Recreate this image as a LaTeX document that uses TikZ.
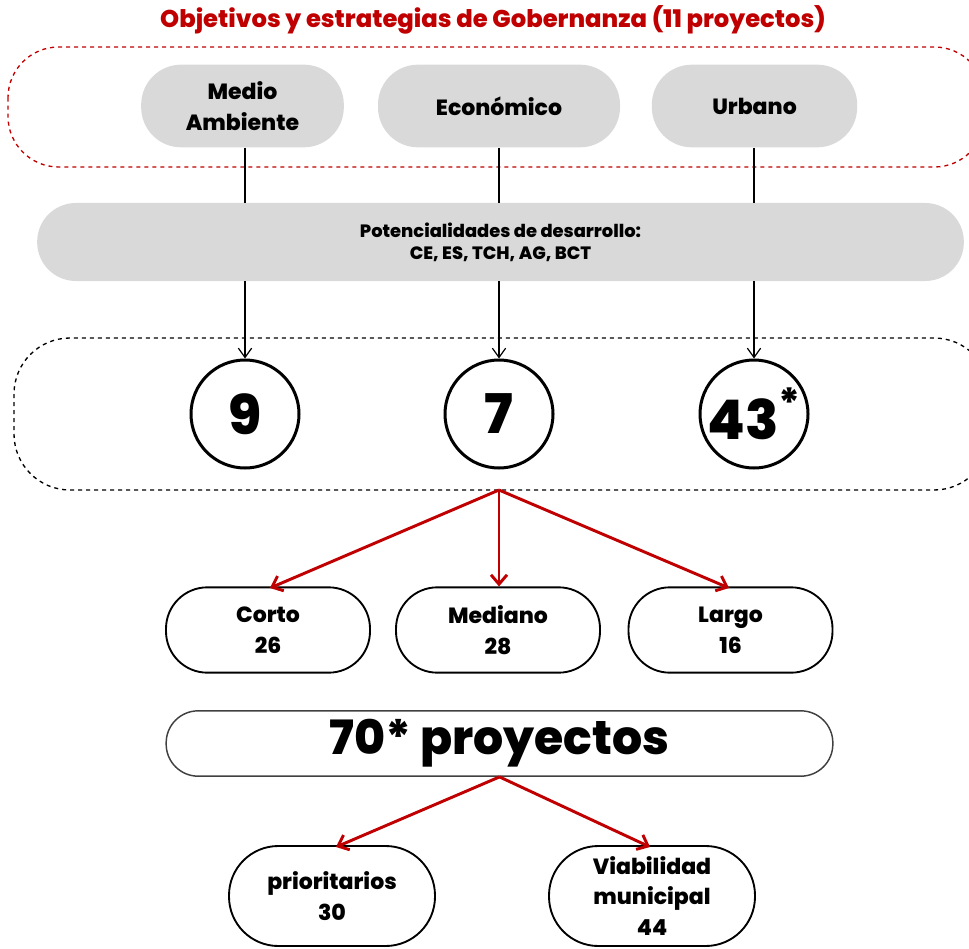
\documentclass[tikz,border=0pt]{standalone}
\usepackage{fontspec}
\setmainfont{Poppins}[BoldFont={Poppins ExtraBold}]
\usetikzlibrary{arrows.meta}
\definecolor{myred}{HTML}{C00000}
\definecolor{pillgray}{HTML}{D9D9D9}
\begin{document}
\begin{tikzpicture}[x=0.75pt,y=-0.75pt,
  graypill/.style={fill=pillgray,draw=none,rounded corners=30pt,minimum height=62pt,align=center,font=\fontsize{16.5}{23}\selectfont\bfseries},
  numcircle/.style={circle,draw=black,line width=2.25pt,minimum size=81pt,inner sep=0pt,font=\fontsize{41}{44}\selectfont\bfseries},
  whitebox/.style={draw=black,line width=1.4pt,rounded corners=31pt,minimum width=153pt,minimum height=64pt,align=center,font=\fontsize{16.5}{23}\selectfont\bfseries},
  blackarrow/.style={draw=black,line width=0.9pt,-{Straight Barb[length=7pt,width=10pt]}},
  blackline/.style={draw=black,line width=0.9pt},
  redarrow/.style={draw=myred,line width=2.2pt,-{Straight Barb[length=7pt,width=12pt]}}
]
\useasboundingbox (0,0) rectangle (969,948);
% title
\node[text=myred,font=\fontsize{18.2}{20}\selectfont\bfseries] (title) at (493,20) {Objetivos y estrategias de Gobernanza (11 proyectos)};
% red dashed frame
\draw[myred,dashed,line width=1pt,rounded corners=38pt] (8,47) rectangle (985,167);
% top pills
\node[graypill,minimum width=152pt] (ma) at (242.5,106) {Medio\\Ambiente};
\node[graypill,minimum width=181.5pt] (ec) at (499,106) {Económico};
\node[graypill,minimum width=154pt] (ur) at (754.5,106) {Urbano};
% big gray pill
\node[fill=pillgray,draw=none,rounded corners=29pt,minimum width=695pt,minimum height=58.5pt,align=center,font=\fontsize{13.4}{16.5}\selectfont\bfseries] (pot) at (500.5,242) {Potencialidades de desarrollo:\\CE, ES, TCH, AG, BCT};
% black dashed frame
\draw[black,dashed,line width=1pt,rounded corners=42pt] (14,338) rectangle (990,490);
\coordinate (fb) at (499,490);
% circles
\node[numcircle] (c9) at (245,414) {9};
\node[numcircle] (c7) at (499,414) {7};
\node[numcircle] (c43) at (754,414) {43\raisebox{0.4em}{\fontsize{30}{30}\selectfont *}};
% black connectors
\draw[blackline] (ma.south -| c9) -- (pot.north -| c9);
\draw[blackline] (ec.south -| c7) -- (pot.north -| c7);
\draw[blackline] (ur.south -| c43) -- (pot.north -| c43);
\draw[blackarrow] (pot.south -| c9) -- (c9.north);
\draw[blackarrow] (pot.south -| c7) -- (c7.north);
\draw[blackarrow] (pot.south -| c43) -- (c43.north);
% term boxes
\node[whitebox] (corto) at (268,630) {Corto\\26};
\node[whitebox] (mediano) at (498,630) {Mediano\\28};
\node[whitebox] (largo) at (730.5,630) {Largo\\16};
\coordinate (ct) at (270,588);
\coordinate (lt) at (729,588);
\draw[redarrow] (fb) -- (ct);
\draw[redarrow] (fb) -- (mediano.north -| fb);
\draw[redarrow] (fb) -- (lt);
% total
\node[draw=black!75,line width=1.1pt,rounded corners=24pt,minimum width=500pt,minimum height=49pt,inner sep=0pt,font=\fontsize{35.5}{40}\selectfont\bfseries] (total) at (499.5,743.5) {70* proyectos};
% bottom boxes
\node[whitebox,minimum width=154.5pt,minimum height=75pt,rounded corners=37pt] (prio) at (332,896) {prioritarios\\30};
\node[whitebox,minimum width=154.5pt,minimum height=75pt,rounded corners=37pt] (viab) at (652,896) {Viabilidad\\municipal\\44};
\coordinate (pt) at (336,847);
\coordinate (vt) at (650,847);
\draw[redarrow] (total.south) -- (pt);
\draw[redarrow] (total.south) -- (vt);
\end{tikzpicture}
\end{document}
